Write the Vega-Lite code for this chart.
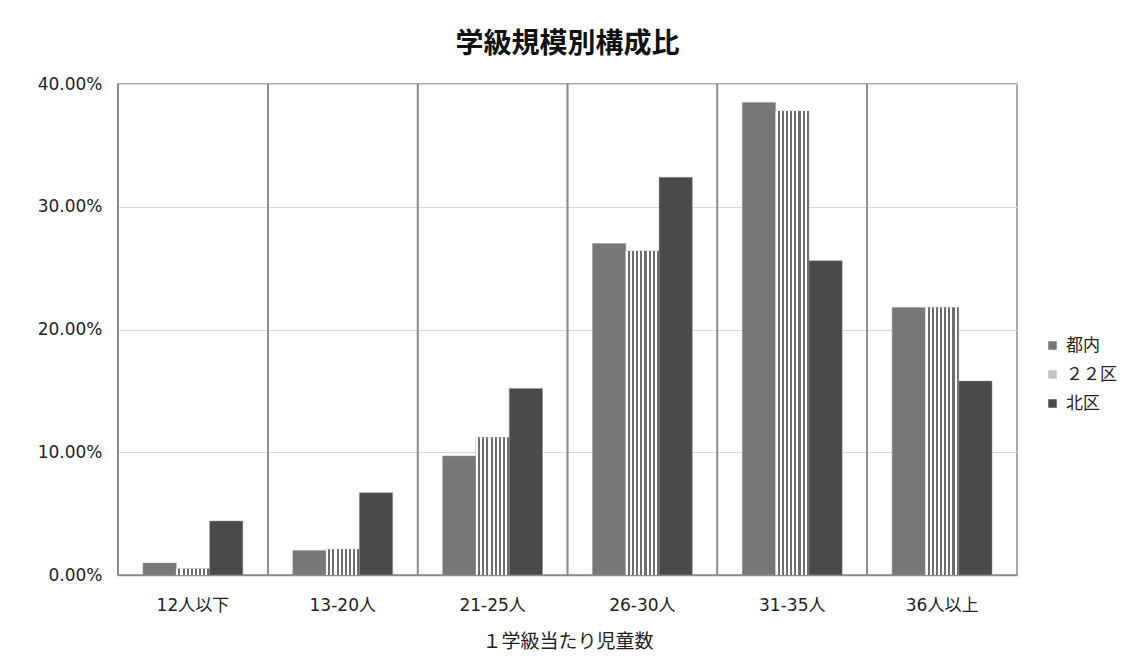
{
  "$schema": "https://vega.github.io/schema/vega-lite/v6.json",
  "width": 899,
  "height": 491,
  "autosize": {"type": "none"},
  "padding": {"left": 118, "top": 84, "right": 112, "bottom": 94},
  "background": "white",
  "config": {
    "font": "DejaVu Sans, Noto Sans CJK JP",
    "view": {"stroke": "#8c8c8c", "strokeWidth": 1.5},
    "axisY": {
      "labelFontSize": 17,
      "labelColor": "#222222",
      "labelPadding": 16,
      "ticks": false,
      "domain": false,
      "gridColor": "#d9d9d9",
      "gridWidth": 1
    },
    "axisX": {
      "titleFont": "Noto Sans CJK JP",
      "titleFontSize": 19,
      "titleFontWeight": "normal",
      "titleColor": "#222222",
      "titlePadding": 19,
      "labelAngle": 0,
      "labelFontSize": 17,
      "labelColor": "#222222",
      "labelPadding": 22,
      "ticks": false,
      "domainColor": "#8c8c8c",
      "domainWidth": 1.5,
      "grid": false
    },
    "legend": {
      "labelFont": "Noto Sans CJK JP",
      "labelFontSize": 17,
      "labelColor": "#222222"
    }
  },
  "title": {
    "text": "学級規模別構成比",
    "font": "Noto Sans CJK JP",
    "fontSize": 28,
    "fontWeight": "bold",
    "color": "#111111",
    "anchor": "middle",
    "offset": 16
  },
  "data": {
    "values": [
      {"cat": "12人以下", "area": "都内", "value": 0.0098},
      {"cat": "12人以下", "area": "２２区", "value": 0.0050},
      {"cat": "12人以下", "area": "北区", "value": 0.0440},
      {"cat": "13-20人", "area": "都内", "value": 0.0200},
      {"cat": "13-20人", "area": "２２区", "value": 0.0210},
      {"cat": "13-20人", "area": "北区", "value": 0.0670},
      {"cat": "21-25人", "area": "都内", "value": 0.0970},
      {"cat": "21-25人", "area": "２２区", "value": 0.1120},
      {"cat": "21-25人", "area": "北区", "value": 0.1520},
      {"cat": "26-30人", "area": "都内", "value": 0.2700},
      {"cat": "26-30人", "area": "２２区", "value": 0.2640},
      {"cat": "26-30人", "area": "北区", "value": 0.3240},
      {"cat": "31-35人", "area": "都内", "value": 0.3850},
      {"cat": "31-35人", "area": "２２区", "value": 0.3780},
      {"cat": "31-35人", "area": "北区", "value": 0.2560},
      {"cat": "36人以上", "area": "都内", "value": 0.2180},
      {"cat": "36人以上", "area": "２２区", "value": 0.2180},
      {"cat": "36人以上", "area": "北区", "value": 0.1580}
    ]
  },
  "encoding": {
    "x": {
      "field": "cat",
      "type": "nominal",
      "sort": null,
      "scale": {"paddingInner": 0, "paddingOuter": 0},
      "axis": {"title": "１学級当たり児童数"}
    }
  },
  "layer": [
    {
      "mark": {"type": "rule", "color": "#8c8c8c", "strokeWidth": 1.5},
      "encoding": {
        "x": {"field": "cat", "type": "nominal", "sort": null, "bandPosition": 0, "axis": {"title": "１学級当たり児童数"}}
      }
    },
    {
      "mark": {"type": "bar", "stroke": "#9a9a9a", "strokeWidth": 0.5},
      "encoding": {
        "xOffset": {
          "field": "area",
          "type": "nominal",
          "sort": ["都内", "２２区", "北区"],
          "scale": {"domain": ["都内", "２２区", "北区"], "paddingInner": 0, "paddingOuter": 0.75}
        },
        "y": {
          "field": "value",
          "type": "quantitative",
          "scale": {"domain": [0, 0.4]},
          "axis": {"title": null, "format": ".2%", "values": [0, 0.1, 0.2, 0.3, 0.4]}
        },
        "color": {
          "field": "area",
          "type": "nominal",
          "sort": ["都内", "２２区", "北区"],
          "scale": {"domain": ["都内", "２２区", "北区"], "range": ["#777777", "#c4c4c4", "#4a4a4a"]},
          "legend": {
            "title": null,
            "orient": "none",
            "legendX": 926,
            "legendY": 253,
            "symbolType": "square",
            "symbolSize": 72,
            "symbolStrokeWidth": 0,
            "labelOffset": 5,
            "rowPadding": 11
          }
        }
      }
    },
    {
      "transform": [{"filter": "datum.area === '２２区'"}],
      "mark": {
        "type": "bar",
        "stroke": null,
        "fill": {
          "gradient": "linear",
          "x1": 0, "y1": 0, "x2": 1, "y2": 0,
          "stops": [
            {"offset": 0, "color": "#ffffff"}, {"offset": 0.0625, "color": "#ffffff"},
            {"offset": 0.0625, "color": "#6e6e6e"}, {"offset": 0.125, "color": "#6e6e6e"},
            {"offset": 0.125, "color": "#ffffff"}, {"offset": 0.1875, "color": "#ffffff"},
            {"offset": 0.1875, "color": "#6e6e6e"}, {"offset": 0.25, "color": "#6e6e6e"},
            {"offset": 0.25, "color": "#ffffff"}, {"offset": 0.3125, "color": "#ffffff"},
            {"offset": 0.3125, "color": "#6e6e6e"}, {"offset": 0.375, "color": "#6e6e6e"},
            {"offset": 0.375, "color": "#ffffff"}, {"offset": 0.4375, "color": "#ffffff"},
            {"offset": 0.4375, "color": "#6e6e6e"}, {"offset": 0.5, "color": "#6e6e6e"},
            {"offset": 0.5, "color": "#ffffff"}, {"offset": 0.5625, "color": "#ffffff"},
            {"offset": 0.5625, "color": "#6e6e6e"}, {"offset": 0.625, "color": "#6e6e6e"},
            {"offset": 0.625, "color": "#ffffff"}, {"offset": 0.6875, "color": "#ffffff"},
            {"offset": 0.6875, "color": "#6e6e6e"}, {"offset": 0.75, "color": "#6e6e6e"},
            {"offset": 0.75, "color": "#ffffff"}, {"offset": 0.8125, "color": "#ffffff"},
            {"offset": 0.8125, "color": "#6e6e6e"}, {"offset": 0.875, "color": "#6e6e6e"},
            {"offset": 0.875, "color": "#ffffff"}, {"offset": 0.9375, "color": "#ffffff"},
            {"offset": 0.9375, "color": "#6e6e6e"}, {"offset": 1, "color": "#6e6e6e"}
          ]
        }
      },
      "encoding": {
        "xOffset": {
          "field": "area",
          "type": "nominal",
          "sort": ["都内", "２２区", "北区"]
        },
        "y": {
          "field": "value",
          "type": "quantitative",
          "axis": {"title": null, "format": ".2%", "values": [0, 0.1, 0.2, 0.3, 0.4]}
        }
      }
    }
  ]
}
